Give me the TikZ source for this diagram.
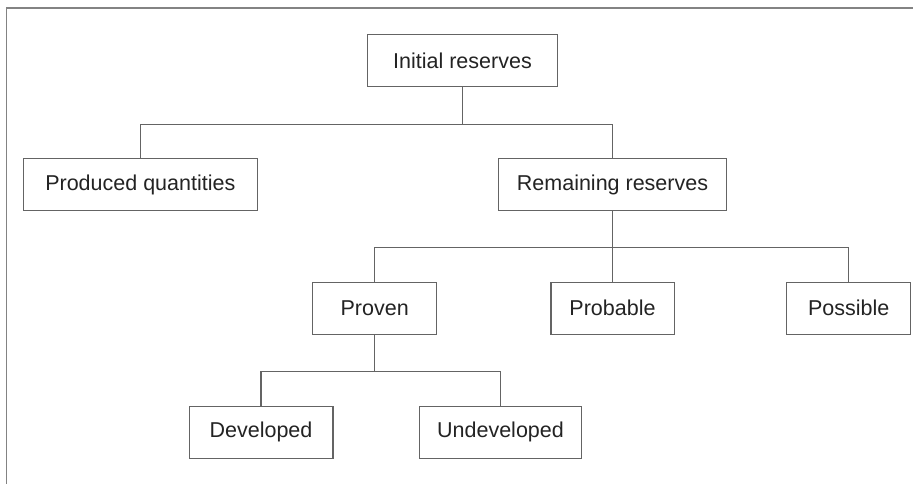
\documentclass[tikz,border=0pt]{standalone}
\usepackage{fontspec}
\setmainfont{Liberation Sans}
\definecolor{linegray}{RGB}{100,100,100}
\definecolor{textgray}{RGB}{35,35,35}
\begin{document}
\begin{tikzpicture}[x=1pt,y=1pt,
  box/.style={draw=linegray,line width=1.3pt,fill=white,inner sep=0pt,
    text=textgray,font=\fontsize{21.5}{25}\selectfont,minimum height=52pt},
  link/.style={draw=linegray,line width=1.2pt},
  frame/.style={draw=linegray!80,line width=1.5pt}]
\useasboundingbox (0,0) rectangle (913,-484);
\draw[frame] (6.7,-484) -- (6.7,-8) -- (913,-8);
\node[box,minimum width=189.6pt] (init) at (462.5,-60.8) {Initial reserves};
\node[box,minimum width=234pt] (prod) at (140.3,-184.5) {Produced quantities};
\node[box,minimum width=228.4pt] (rem) at (612.5,-184.5) {Remaining reserves};
\node[box,minimum width=124pt] (proven) at (374.7,-308.2) {Proven};
\node[box,minimum width=123.3pt] (probable) at (612.5,-308.2) {Probable};
\node[box,minimum width=124pt] (possible) at (848.7,-308.2) {Possible};
\node[box,minimum width=143.7pt] (dev) at (261,-432.2) {Developed};
\node[box,minimum width=162.4pt] (undev) at (500.5,-432.2) {Undeveloped};
\draw[link] (init.south) -- ++(0,-36.7) -| (prod.north);
\draw[link] (init.south) -- ++(0,-36.7) -| (rem.north);
\draw[link] (rem.south) -- ++(0,-36.5) -| (proven.north);
\draw[link] (rem.south) -- (probable.north);
\draw[link] (rem.south) -- ++(0,-36.5) -| (possible.north);
\draw[link] (proven.south) -- ++(0,-36.3) -| (dev.north);
\draw[link] (proven.south) -- ++(0,-36.3) -| (undev.north);
\end{tikzpicture}
\end{document}
